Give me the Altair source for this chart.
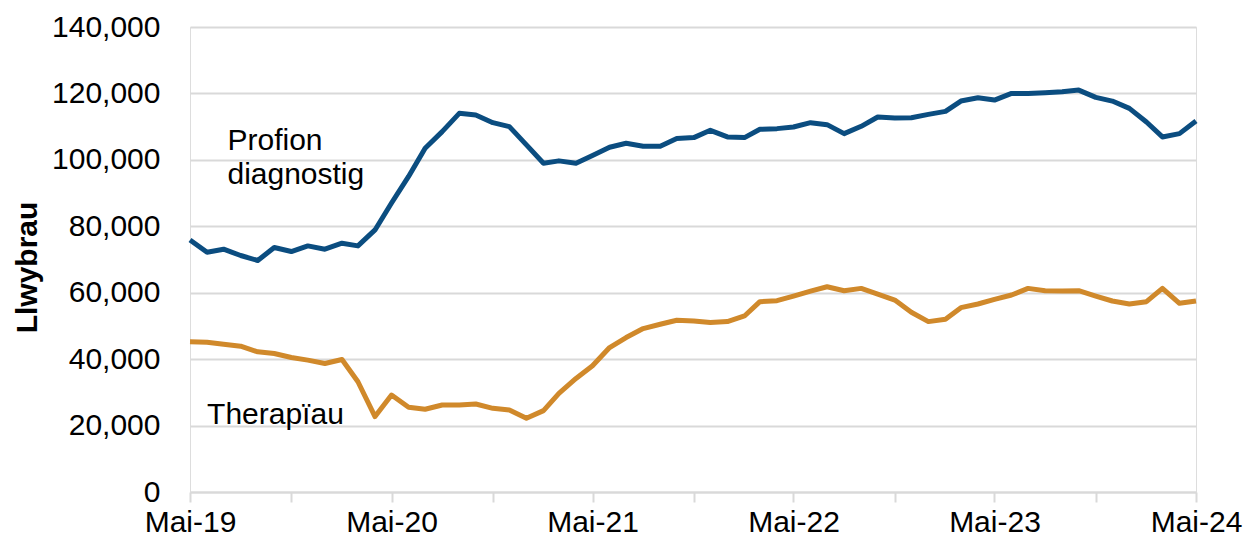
import altair as alt
import pandas as pd

# Monthly dates May 2019 - May 2024
months = pd.date_range("2019-05-01", "2024-05-01", freq="MS").strftime("%Y-%m-%d").tolist()

# Values in thousands
profion = [75.9, 72.2, 73.1, 71.2, 69.7, 73.6, 72.4, 74.1, 73.1, 74.9, 74.1, 78.9,
           87.0, 95.0, 103.5, 108.5, 114.0, 113.5, 111.2, 110.0, 104.5, 99.0, 99.7, 99.0,
           101.3, 103.8, 105.0, 104.1, 104.1, 106.4, 106.7, 108.9, 106.9, 106.7,
           109.2, 109.4, 109.9, 111.2, 110.6, 107.9, 110.1, 112.9, 112.6, 112.7,
           113.7, 114.6, 117.7, 118.7, 118.0, 120.0, 120.0, 120.2, 120.5, 121.0,
           118.8, 117.7, 115.5, 111.4, 106.9, 107.9, 111.7]
therapiau = [45.2, 45.1, 44.5, 43.9, 42.2, 41.7, 40.5, 39.7, 38.7, 39.9, 33.2, 22.7,
             29.2, 25.5, 24.9, 26.2, 26.2, 26.5, 25.2, 24.7, 22.2, 24.5, 29.7, 34.2,
             38.0, 43.5, 46.5, 49.2, 50.5, 51.7, 51.5, 51.0, 51.3, 53.0,
             57.3, 57.6, 59.0, 60.5, 61.8, 60.6, 61.3, 59.6, 57.8, 54.1,
             51.3, 52.0, 55.5, 56.6, 58.0, 59.3, 61.3, 60.6, 60.5, 60.6,
             59.0, 57.5, 56.6, 57.3, 61.3, 56.8, 57.5]

series_names = ["Profion diagnostig", "Therapïau"]
series_colors = ["#0b4d80", "#d0892b"]

y_ticks = [0, 20000, 40000, 60000, 80000, 100000, 120000, 140000]

# Annotation labels (data coordinates)
label_text = ["Profion", "diagnostig", "Therapïau"]
label_date = ["2019-07-08", "2019-07-08", "2019-06-01"]
label_value = [103000, 92800, 20400]

rows = []
for name, vals in zip(series_names, [profion, therapiau]):
    for d, v in zip(months, vals):
        rows.append({"date": d, "value": v * 1000, "series": name})
df = pd.DataFrame(rows)

labels_df = pd.DataFrame({"date": label_date, "value": label_value, "text": label_text})

FONT = "Liberation Sans"

tick_dates = [alt.DateTime(year=2019 + (4 + 6 * i) // 12, month=(4 + 6 * i) % 12 + 1, date=1, utc=True)
              for i in range(11)]

x_enc = alt.X(
    "date:T",
    scale=alt.Scale(type="utc",
                    domain=[alt.DateTime(year=2019, month=5, date=1, utc=True),
                            alt.DateTime(year=2024, month=5, date=1, utc=True)]),
    axis=alt.Axis(
        values=tick_dates,
        labelExpr="utcFormat(datum.value, '%m') == '05' ? 'Mai-' + utcFormat(datum.value, '%y') : ''",
        labelFont=FONT,
        labelFontSize=30,
        labelColor="black",
        labelBaseline="alphabetic",
        labelPadding=29,
        labelOverlap=False,
        labelFlush=False,
        tickColor="#d9d9d9",
        tickWidth=2,
        tickSize=10,
        domainColor="#d9d9d9",
        domainWidth=2,
        grid=False,
        title=None,
    ),
)

y_enc = alt.Y(
    "value:Q",
    scale=alt.Scale(domain=[0, 140000], nice=False),
    axis=alt.Axis(
        values=y_ticks,
        format=",.0f",
        labelFont=FONT,
        labelFontSize=30,
        labelColor="black",
        labelPadding=30,
        ticks=False,
        domain=False,
        gridColor="#d9d9d9",
        gridWidth=2,
        title="Llwybrau",
        titleFont=FONT,
        titleFontSize=30,
        titleFontWeight="bold",
        titleColor="black",
        titleAngle=270,
        titleAlign="center",
        titleBaseline="alphabetic",
        titleX=-154,
        titleY=240,
    ),
)

lines = alt.Chart(df).mark_line(strokeWidth=5, strokeJoin="round").encode(
    x=x_enc,
    y=y_enc,
    color=alt.Color("series:N", scale=alt.Scale(domain=series_names, range=series_colors), legend=None),
)

texts = alt.Chart(labels_df).mark_text(
    align="left", baseline="alphabetic", font=FONT, fontSize=30, color="black"
).encode(
    x=alt.X("date:T"),
    y=alt.Y("value:Q"),
    text="text:N",
)

chart = alt.layer(lines, texts).properties(
    width=1006,
    height=465,
    autosize=alt.AutoSizeParams(type="none"),
    padding={"left": 182, "top": 19, "right": 48, "bottom": 45},
).configure_view(stroke=None).configure(background="white")

chart.save("out.html", embed_options={"renderer": "svg", "actions": False})
